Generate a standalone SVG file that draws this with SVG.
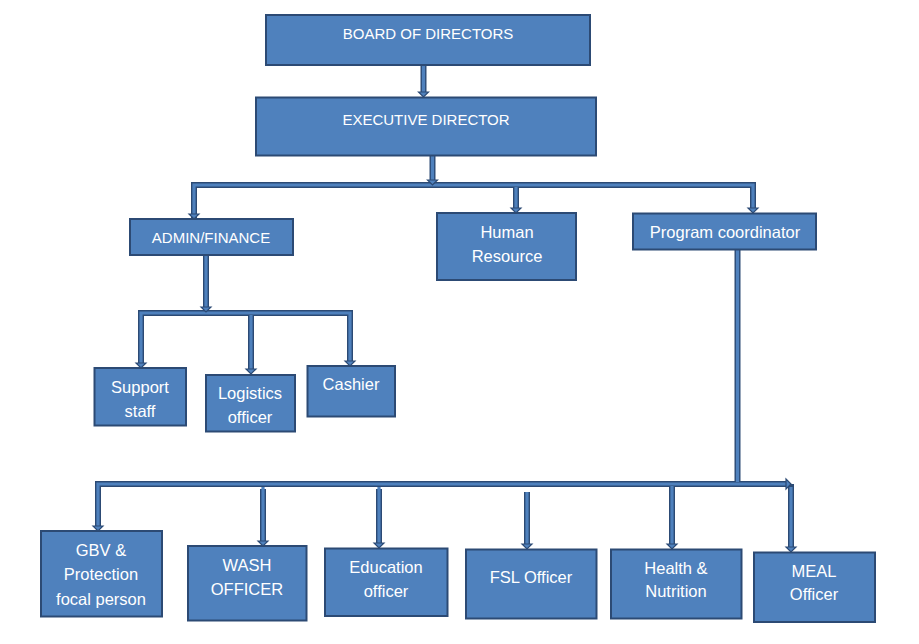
<svg xmlns="http://www.w3.org/2000/svg" width="919" height="644" viewBox="0 0 919 644">
<defs>
<style>
.box{fill:#4F81BD;stroke:#2C4A74;stroke-width:2}
.t{font-family:"Liberation Sans",Arial,sans-serif;font-size:16.5px;fill:#FFFFFF;text-anchor:middle}
.tc{font-family:"Liberation Sans",Arial,sans-serif;font-size:15px;fill:#FFFFFF;text-anchor:middle}
.co{fill:none;stroke:#2C4A74;stroke-width:6;stroke-linejoin:miter}
.ci{fill:none;stroke:#4F81BD;stroke-width:3.2;stroke-linejoin:miter}
.ah{fill:#4F81BD;stroke:#2C4A74;stroke-width:1.2;stroke-linejoin:miter}
</style>
</defs>
<rect width="919" height="644" fill="#FFFFFF"/>
<g id="connectors">
<path class="co" d="M423.5,65 V92"/>
<path class="co" d="M432.5,156 V180"/>
<path class="co" d="M194,219 V185 H753 V208"/>
<path class="co" d="M516,185 V208"/>
<path class="co" d="M206,256 V307"/>
<path class="co" d="M141,363 V313 H350 V361"/>
<path class="co" d="M251,313 V369"/>
<path class="co" d="M737.5,250 V484"/>
<path class="co" d="M98,526 V484 H786"/>
<path class="co" d="M791,484 V547"/>
<path class="co" d="M263,489 V541"/>
<path class="co" d="M379,489 V543"/>
<path class="co" d="M527,492 V544"/>
<path class="co" d="M672,487 V544"/>
<path class="ci" d="M423.5,65 V92"/>
<path class="ci" d="M432.5,156 V180"/>
<path class="ci" d="M194,219 V185 H753 V208"/>
<path class="ci" d="M516,187 V208"/>
<path class="ci" d="M206,256 V307"/>
<path class="ci" d="M141,363 V313 H350 V361"/>
<path class="ci" d="M251,315 V369"/>
<path class="ci" d="M737.5,250 V482"/>
<path class="ci" d="M98,526 V484 H786"/>
<path class="ci" d="M791,487 V547"/>
<path class="ci" d="M263,487 V541"/>
<path class="ci" d="M379,487 V543"/>
<path class="ci" d="M527,492 V544"/>
<path class="ci" d="M672,486 V544"/>
<polygon class="ah" points="418.5,92 428.5,92 423.5,97"/>
<polygon class="ah" points="427.5,180 437.5,180 432.5,185"/>
<polygon class="ah" points="189,214 199,214 194,219"/>
<polygon class="ah" points="511,208 521,208 516,213"/>
<polygon class="ah" points="748,208 758,208 753,213"/>
<polygon class="ah" points="201,307 211,307 206,312"/>
<polygon class="ah" points="136,363 146,363 141,368"/>
<polygon class="ah" points="246,369 256,369 251,374"/>
<polygon class="ah" points="345,361 355,361 350,366"/>
<polygon class="ah" points="93,526 103,526 98,531"/>
<polygon class="ah" points="258,541 268,541 263,546"/>
<polygon class="ah" points="374,543 384,543 379,548"/>
<polygon class="ah" points="522,544 532,544 527,549"/>
<polygon class="ah" points="667,544 677,544 672,549"/>
<polygon class="ah" points="786,547 796,547 791,552"/>
<polygon class="ah" points="786,479 786,489 791,484"/>
</g>
<g id="board"><rect class="box" x="266" y="15" width="324" height="50"/><text class="tc" x="428" y="39">BOARD OF DIRECTORS</text></g>
<g id="executive"><rect class="box" x="256" y="97.5" width="340" height="58"/><text class="tc" x="426" y="125">EXECUTIVE DIRECTOR</text></g>
<g id="admin"><rect class="box" x="130" y="219" width="163" height="36"/><text class="tc" x="211" y="243">ADMIN/FINANCE</text></g>
<g id="hr"><rect class="box" x="437" y="213" width="139" height="67"/><text class="t" x="507" y="238">Human</text><text class="t" x="507" y="262">Resource</text></g>
<g id="program"><rect class="box" x="633" y="213.5" width="183" height="36"/><text class="t" x="725" y="238">Program coordinator</text></g>
<g id="support"><rect class="box" x="94.5" y="368" width="91.5" height="57.5"/><text class="t" x="140" y="393">Support</text><text class="t" x="140" y="417">staff</text></g>
<g id="logistics"><rect class="box" x="206" y="375" width="89" height="56.5"/><text class="t" x="250" y="399">Logistics</text><text class="t" x="250" y="423">officer</text></g>
<g id="cashier"><rect class="box" x="307.5" y="366" width="87.5" height="50.5"/><text class="t" x="351" y="390">Cashier</text></g>
<g id="gbv"><rect class="box" x="41" y="531" width="121" height="85.5"/><text class="t" x="101" y="556">GBV &amp;</text><text class="t" x="101" y="580">Protection</text><text class="t" x="101" y="605">focal person</text></g>
<g id="wash"><rect class="box" x="188" y="546" width="118.5" height="74.5"/><text class="t" x="247" y="571">WASH</text><text class="t" x="247" y="595">OFFICER</text></g>
<g id="education"><rect class="box" x="325" y="548.5" width="122.5" height="67.5"/><text class="t" x="386" y="573">Education</text><text class="t" x="386" y="597">officer</text></g>
<g id="fsl"><rect class="box" x="466" y="549.5" width="130.5" height="69"/><text class="t" x="531" y="583">FSL Officer</text></g>
<g id="health"><rect class="box" x="611" y="549.5" width="130.5" height="69"/><text class="t" x="676" y="574">Health &amp;</text><text class="t" x="676" y="597">Nutrition</text></g>
<g id="meal"><rect class="box" x="754" y="552.5" width="121" height="69.5"/><text class="t" x="814" y="577">MEAL</text><text class="t" x="814" y="600">Officer</text></g>
</svg>
